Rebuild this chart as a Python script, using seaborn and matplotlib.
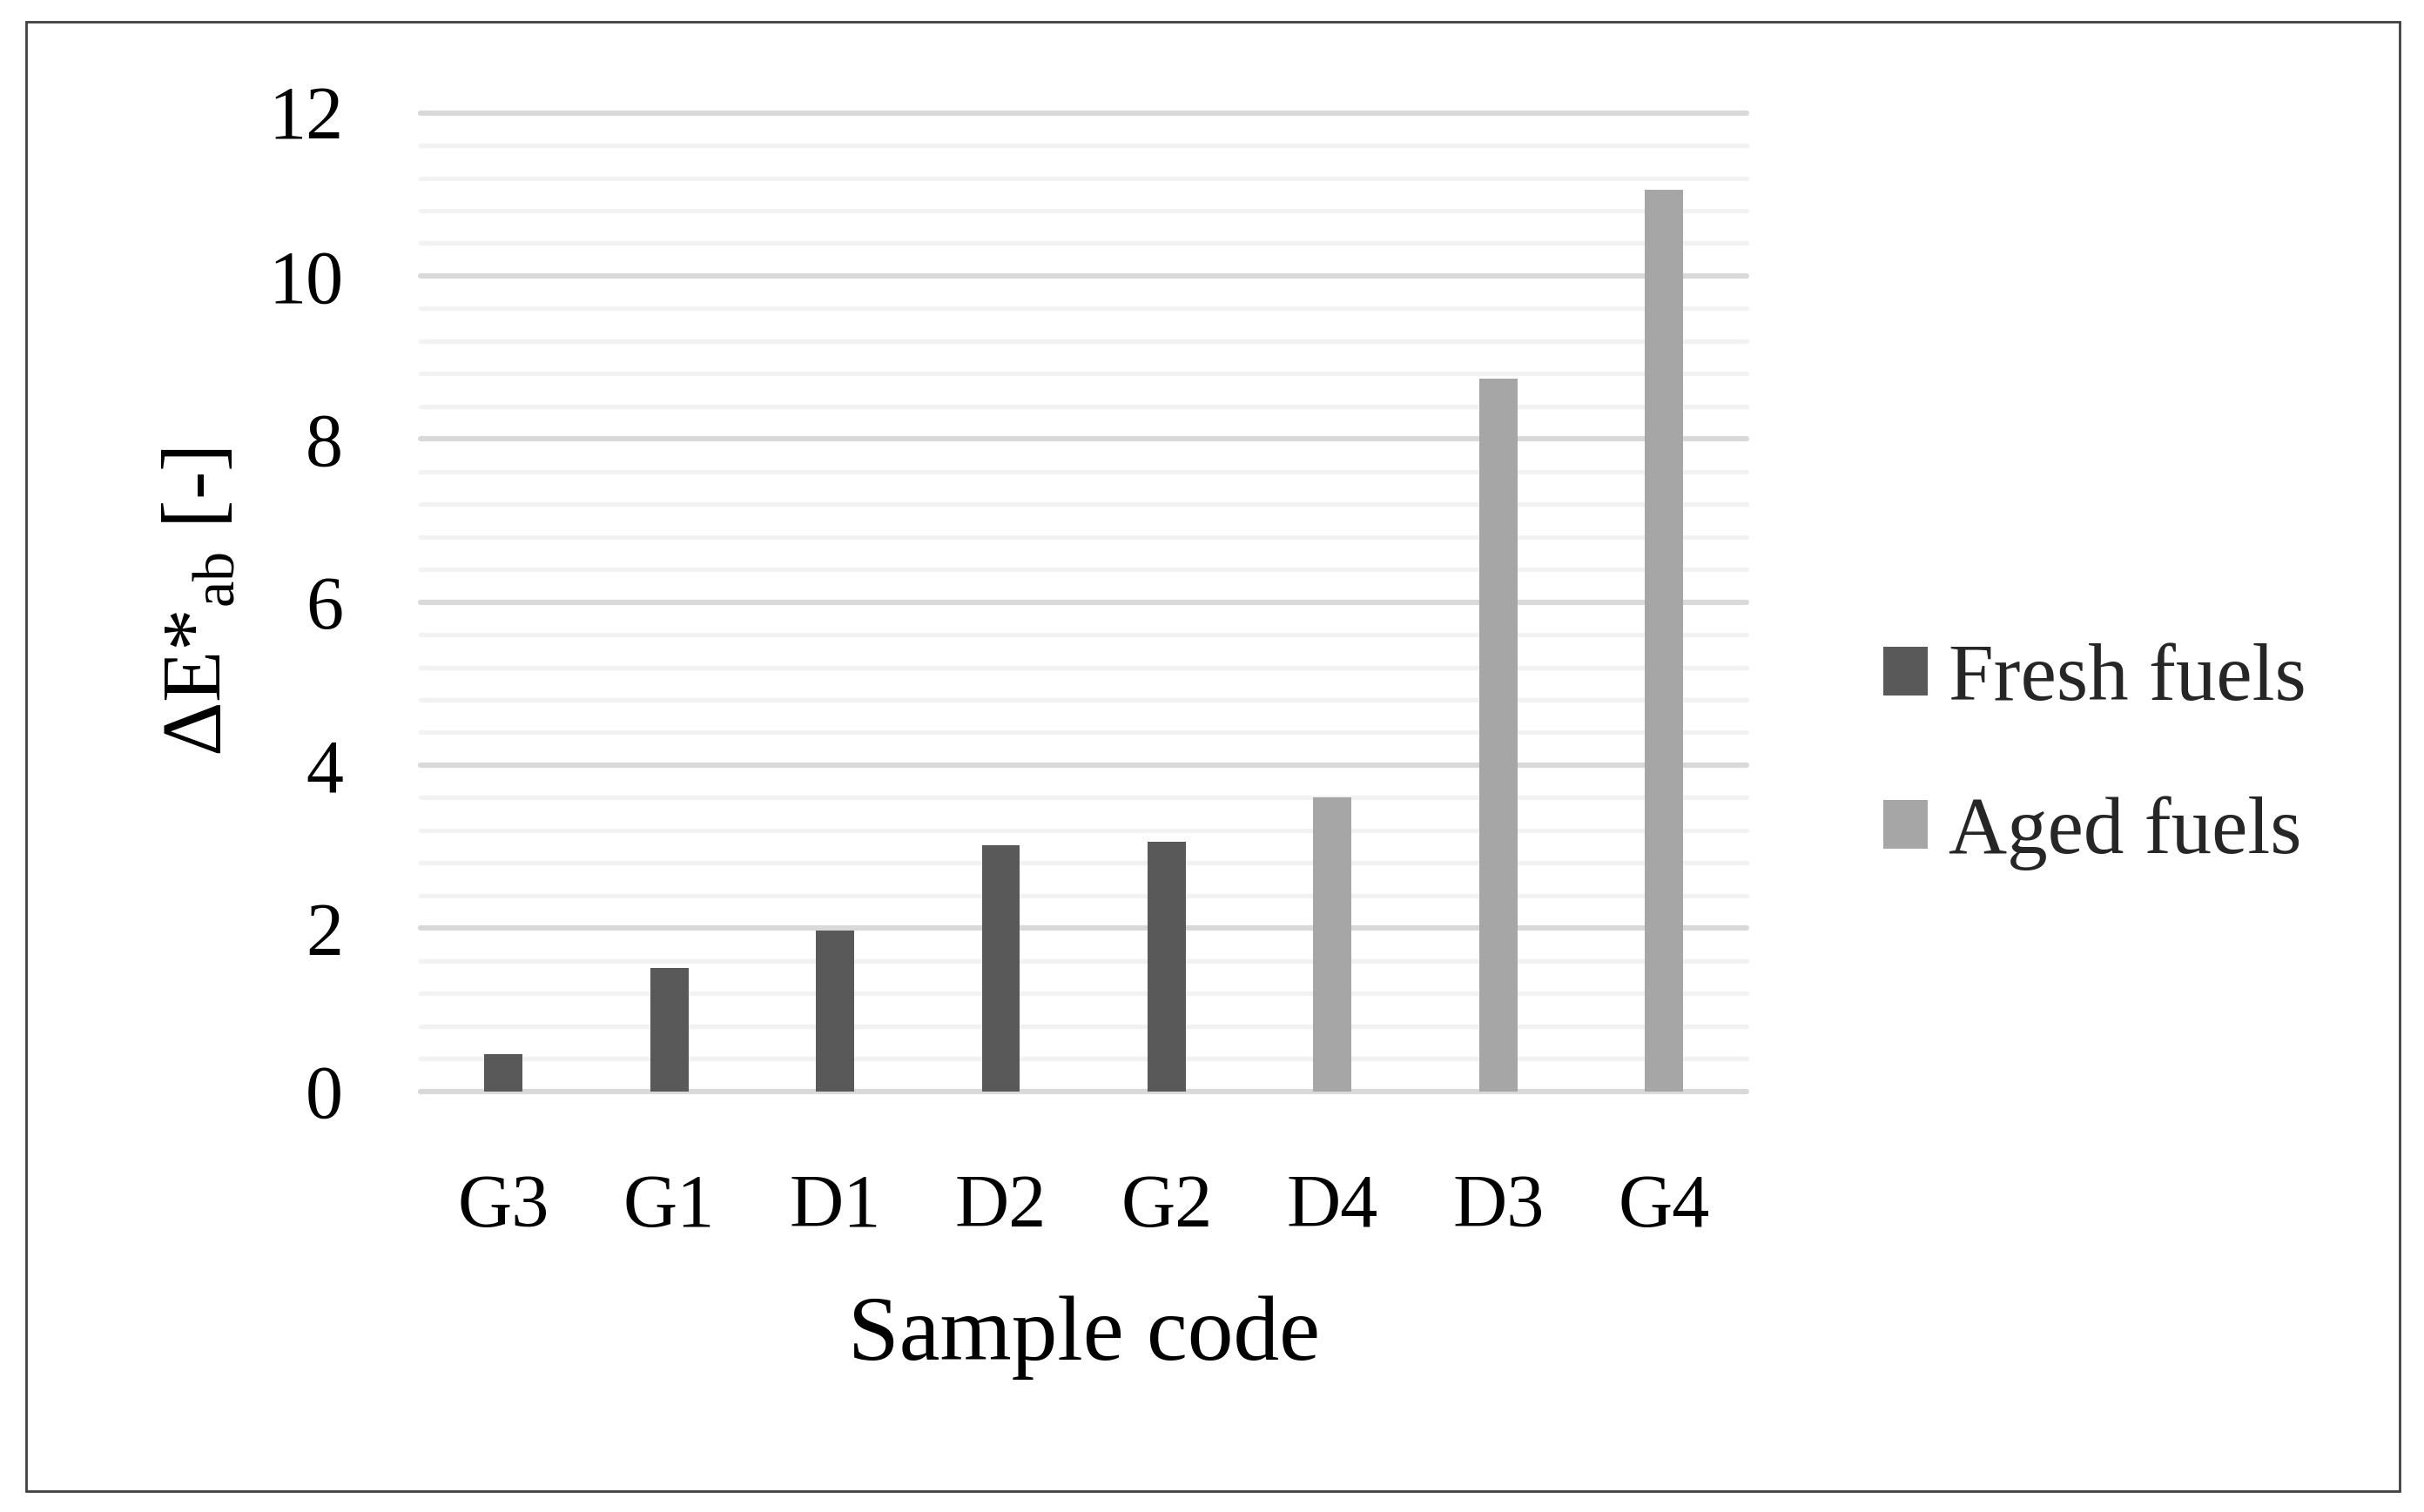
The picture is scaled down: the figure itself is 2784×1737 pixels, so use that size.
import matplotlib
matplotlib.use("Agg")
import matplotlib.pyplot as plt
import seaborn as sns
import pandas as pd
from matplotlib.patches import Rectangle, Patch
from matplotlib.ticker import MultipleLocator

# Data
samples = ["G3", "G1", "D1", "D2", "G2", "D4", "D3", "G4"]
delta_e = [0.46, 1.51, 1.97, 3.02, 3.06, 3.60, 8.74, 11.06]
fuel_type = ["Fresh fuels", "Fresh fuels", "Fresh fuels", "Fresh fuels",
             "Fresh fuels", "Aged fuels", "Aged fuels", "Aged fuels"]
groups = ["Fresh fuels", "Aged fuels"]
colors = {"Fresh fuels": "#595959", "Aged fuels": "#A6A6A6"}

df = pd.DataFrame({"sample": samples, "delta_e": delta_e, "fuel": fuel_type})

sns.set_theme(style="white")
plt.rcParams["font.family"] = ["Liberation Serif", "DejaVu Serif"]
plt.rcParams["mathtext.fontset"] = "custom"
plt.rcParams["mathtext.rm"] = "Liberation Serif"

fig = plt.figure(figsize=(13.92, 8.685), dpi=200)
ax = fig.add_axes([0.1735, 0.2783, 0.7207 - 0.1735, 0.9254 - 0.2783])

sns.barplot(data=df, x="sample", y="delta_e", hue="fuel", hue_order=groups,
            palette=colors, dodge=False, width=0.23, linewidth=0,
            saturation=1, ax=ax, legend=False)

ax.set_ylim(0, 12)
ax.set_xlim(-0.5, len(samples) - 0.5)
ax.yaxis.set_major_locator(MultipleLocator(2))
ax.yaxis.set_minor_locator(MultipleLocator(0.4))
ax.set_axisbelow(True)
ax.grid(which="major", axis="y", color="#D9D9D9", linewidth=2.2)
ax.grid(which="minor", axis="y", color="#F2F2F2", linewidth=1.9)
ax.grid(which="both", axis="x", visible=False)
for t in ax.yaxis.get_major_ticks() + ax.yaxis.get_minor_ticks():
    t.gridline.set_clip_on(False)
for s in ax.spines.values():
    s.set_visible(False)

ax.tick_params(axis="both", which="both", length=0, labelsize=31, colors="black")
ax.tick_params(axis="y", pad=32)
ax.tick_params(axis="x", pad=34)

ax.set_xlabel("Sample code", fontsize=38, color="black")
ax.xaxis.set_label_coords(0.5, -0.252)
ax.xaxis.label.set_va("center")
ax.set_ylabel("ΔE*$_\\mathregular{ab}$ [-]", fontsize=35, color="black")
ax.yaxis.set_label_coords(-0.1655, 0.5)
ax.yaxis.label.set_va("center")

handles = [Patch(facecolor=colors[g], edgecolor="none") for g in groups]
fig.legend(handles, groups, loc="center left", bbox_to_anchor=(0.777, 0.4995),
           frameon=False, fontsize=33.5, handlelength=0.55, handleheight=0.55,
           handletextpad=0.25, labelspacing=0.97, borderpad=0, borderaxespad=0)

# outer frame
fig.patches.append(Rectangle((0.0108, 0.0137), 0.990 - 0.0108, 0.9856 - 0.0137,
                             transform=fig.transFigure, fill=False,
                             edgecolor="#404040", linewidth=1.0))

fig.savefig("out.png", dpi=200, facecolor="white")
